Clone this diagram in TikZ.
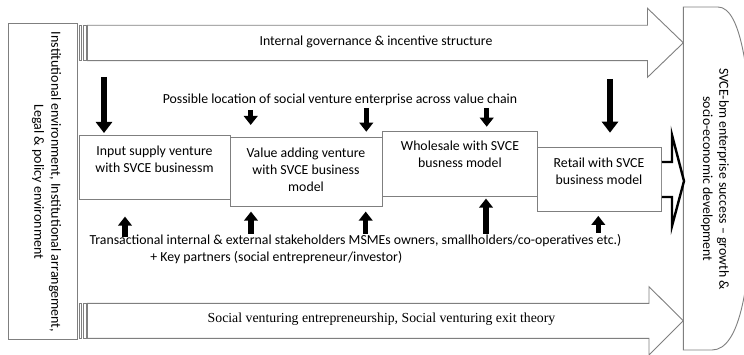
\documentclass[tikz,border=0pt]{standalone}
\usepackage{fontspec}
\setmainfont{Carlito}
\newfontfamily\serifx{Liberation Serif}
\usetikzlibrary{arrows.meta}
\definecolor{lgray}{HTML}{7F7F7F}
\begin{document}
\begin{tikzpicture}[x=1pt,y=-1pt,
  outl/.style={draw=lgray, line width=0.9pt, fill=white},
  vbox/.style={outl, inner sep=0pt, anchor=north west},
  lbl/.style={font=\fontsize{13.8}{17}\selectfont, align=center, text=black, inner sep=0pt},
  bigdown/.style={line width=6.5pt, -{Triangle[width=16pt,length=11pt]}},
  smalldown/.style={line width=5.2pt, -{Triangle[width=13.5pt,length=9pt]}},
  upar/.style={line width=5.5pt, -{Triangle[width=13.5pt,length=9pt]}},
  blockarrow/.style={draw=black, line width=2.4pt, fill=white, line join=miter}
]
\useasboundingbox (0,0) rectangle (744,355);
% big striped arrows
\draw[outl] (79.5,25.3) rectangle (81.8,60.7);
\draw[outl] (83.3,25.3) rectangle (86.3,60.7);
\draw[outl] (87.5,25.3) -- (647.5,25.3) -- (647.5,8.3) -- (683.3,42.8) -- (647.5,77.3) -- (647.5,60.7) -- (87.5,60.7) -- cycle;
\draw[outl] (79.5,303.3) rectangle (81.8,338.3);
\draw[outl] (83.3,303.3) rectangle (86.3,338.3);
\draw[outl] (87.5,303.3) -- (649,303.3) -- (649,286.7) -- (683.3,320.8) -- (649,354.9) -- (649,338.3) -- (87.5,338.3) -- cycle;
\node[lbl] (gov) at (376,42) {Internal governance \& incentive structure};
\node[lbl, font=\serifx\fontsize{13.8}{17}\selectfont] (soc) at (381.5,319) {Social venturing entrepreneurship, Social venturing exit theory};
% left box
\node[vbox, minimum width=69.3pt, minimum height=316pt] (lb) at (8,23) {};
\node[lbl, rotate=-90, font=\fontsize{14}{17}\selectfont] (lbt) at (46.5,182) {Institutional environment, Institutional arrangement,\\Legal \& policy environment};
% right box
\draw[outl] (683.3,7) -- (718,7) .. controls (742,7) and (752,80) .. (752,180) .. controls (752,285) and (740,350) .. (712,350) -- (683.3,350) -- cycle;
\node[lbl, rotate=-90, font=\fontsize{13.8}{16.3}\selectfont] (rb) at (715,179) {SVCE-bm enterprise success -- growth \&\\socio-economic development};
% value chain boxes
\node[vbox, minimum width=151pt, minimum height=64pt] (b1) at (79,135) {};
\node[vbox, minimum width=151.7pt, minimum height=69pt] (b2) at (230,136.7) {};
\node[vbox, minimum width=155.6pt, minimum height=64.7pt] (b3) at (381.7,131) {};
\node[vbox, minimum width=123.7pt, minimum height=64pt] (b4) at (537.3,146.7) {};
\node[lbl] (t1) at (154.5,159.5) {Input supply venture\\with SVCE businessm};
\node[lbl] (t2) at (306,169.6) {Value adding venture\\with SVCE business\\model};
\node[lbl] (t3) at (460,154.7) {Wholesale with SVCE\\busness model};
\node[lbl] (t4) at (599,170.8) {Retail with SVCE\\business model};
% texts
\node[lbl] (loc) at (340,100) {Possible location of social venture enterprise across value chain};
\node[lbl] (tr1) at (355.5,241) {Transactional internal \& external stakeholders MSMEs owners, smallholders/co-operatives etc.)};
\node[lbl] (tr2) at (276.3,258) {+ Key partners (social entrepreneur/investor)};
% down arrows
\coordinate (d1) at (104,77);
\coordinate (d2) at (250.7,110);
\coordinate (d3) at (366.3,108);
\coordinate (d4) at (486.7,108);
\coordinate (d5) at (610,79);
\draw[bigdown, shorten >=2pt] (d1) -- (d1 |- b1.north);
\draw[smalldown, shorten >=11.7pt] (d2) -- (d2 |- b2.north);
\draw[smalldown, shorten >=5pt] (d3) -- (d3 |- b2.north);
\draw[smalldown, shorten >=4.3pt] (d4) -- (d4 |- b3.north);
\draw[bigdown, shorten >=14pt] (d5) -- (d5 |- b4.north);
% up arrows
\coordinate (u1) at (125,236.7);
\coordinate (u2) at (251,234);
\coordinate (u3) at (365.7,234);
\coordinate (u4) at (486,234);
\coordinate (u5) at (598.3,233);
\draw[upar, shorten >=16.7pt] (u1) -- (u1 |- b1.south);
\draw[upar, shorten >=5pt] (u2) -- (u2 |- b2.south);
\draw[upar, shorten >=5pt] (u3) -- (u3 |- b2.south);
\draw[upar, shorten >=2pt] (u4) -- (u4 |- b3.south);
\draw[upar, shorten >=4.3pt] (u5) -- (u5 |- b4.south);
% block arrow retail -> outcome
\draw[blockarrow] (b4.east |- 0,162) -- (672,162) -- (672,135) -- (684,181) -- (672,226) -- (672,197) -- (b4.east |- 0,197);
\end{tikzpicture}
\end{document}
